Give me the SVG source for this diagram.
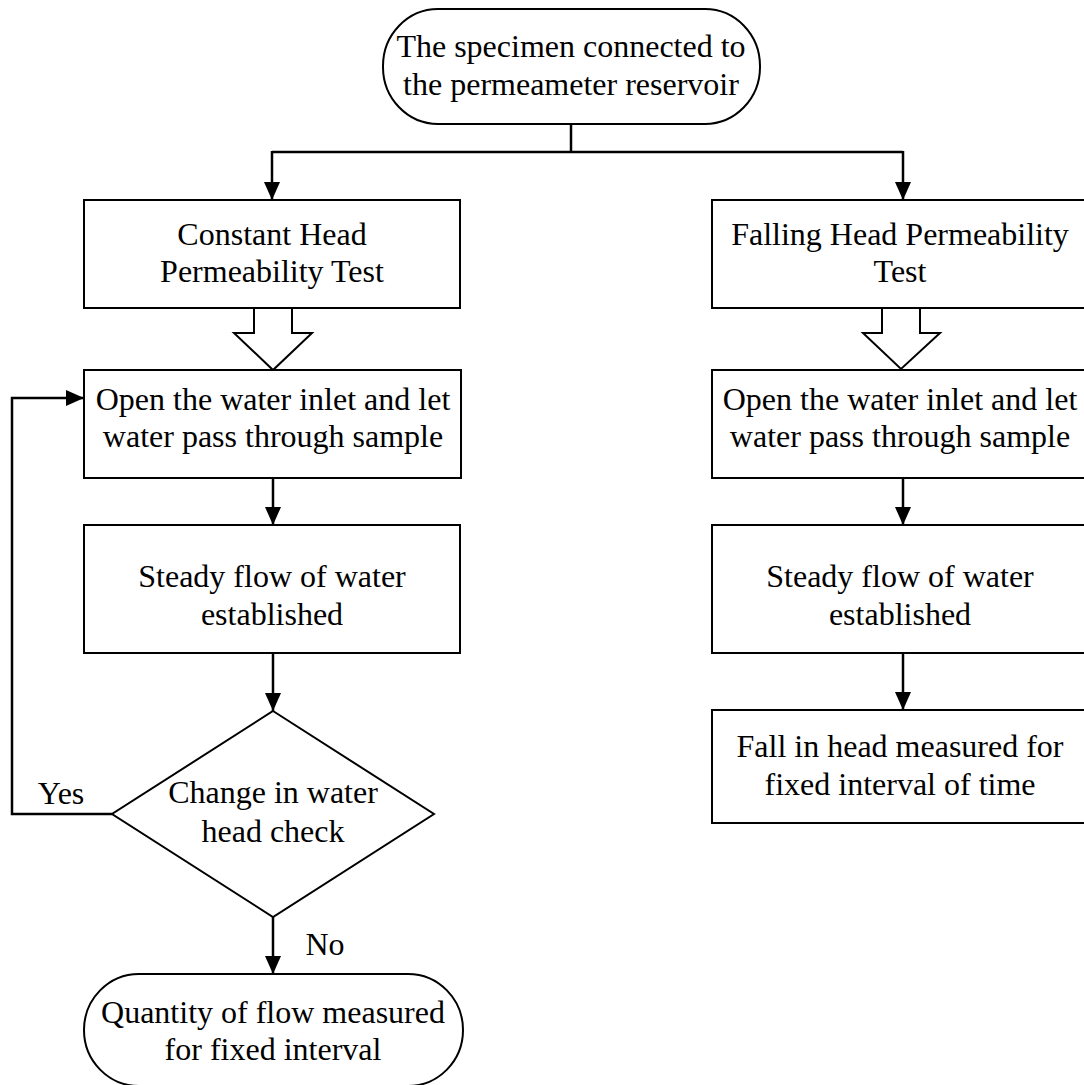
<svg xmlns="http://www.w3.org/2000/svg" width="1084" height="1085" viewBox="0 0 1084 1085">
<style>
.n{fill:#fff;stroke:#000;stroke-width:2}
.t{font-family:"Liberation Serif","Times New Roman",serif;font-size:32px;fill:#000;text-anchor:middle}
.c{fill:none;stroke:#000;stroke-width:2.5}
.h{fill:#fff;stroke:#000;stroke-width:2}
</style>
<defs>
<marker id="ah" markerUnits="userSpaceOnUse" markerWidth="18" markerHeight="16" refX="18" refY="8" orient="auto" viewBox="0 0 18 16">
<path d="M0,0 L18,8 L0,16 z" fill="#000"/>
</marker>
</defs>
<rect width="1084" height="1085" fill="#fff"/>
<g id="connectors">
<polyline class="c" points="571,124 571,152"/>
<polyline class="c" points="272,152 903,152"/>
<line class="c" x1="272" y1="151" x2="272" y2="200" marker-end="url(#ah)"/>
<line class="c" x1="903" y1="151" x2="903" y2="200" marker-end="url(#ah)"/>
<polygon class="h" points="254,308 292,308 292,333 312,333 273,370 234,333 254,333"/>
<polygon class="h" points="882,308 920,308 920,333 940,333 901,369 863,333 882,333"/>
<line class="c" x1="273" y1="478" x2="273" y2="525" marker-end="url(#ah)"/>
<line class="c" x1="903" y1="478" x2="903" y2="525" marker-end="url(#ah)"/>
<line class="c" x1="273" y1="653" x2="273" y2="711" marker-end="url(#ah)"/>
<line class="c" x1="903" y1="653" x2="903" y2="710" marker-end="url(#ah)"/>
<polyline class="c" points="112,814 12,814 12,398 84,398" marker-end="url(#ah)"/>
<line class="c" x1="273" y1="917" x2="273" y2="974" marker-end="url(#ah)"/>
<text class="t" x="61" y="804">Yes</text>
<text class="t" x="325" y="955">No</text>
</g>
<g id="start">
<rect class="n" x="383" y="9" width="377" height="115" rx="55" ry="57"/>
<text class="t" x="571" y="57">The specimen connected to</text>
<text class="t" x="571" y="95">the permeameter reservoir</text>
</g>
<g id="constant">
<rect class="n" x="84" y="200" width="376" height="108"/>
<text class="t" x="272" y="245">Constant Head</text>
<text class="t" x="272" y="282">Permeability Test</text>
</g>
<g id="falling">
<rect class="n" x="712" y="200" width="382" height="108"/>
<text class="t" x="900" y="245">Falling Head Permeability</text>
<text class="t" x="900" y="282">Test</text>
</g>
<g id="open-left">
<rect class="n" x="84" y="370" width="377" height="108"/>
<text class="t" x="273" y="410">Open the water inlet and let</text>
<text class="t" x="273" y="447">water pass through sample</text>
</g>
<g id="open-right">
<rect class="n" x="712" y="370" width="382" height="108"/>
<text class="t" x="900" y="410">Open the water inlet and let</text>
<text class="t" x="900" y="447">water pass through sample</text>
</g>
<g id="steady-left">
<rect class="n" x="84" y="525" width="376" height="128"/>
<text class="t" x="272" y="587">Steady flow of water</text>
<text class="t" x="272" y="625">established</text>
</g>
<g id="steady-right">
<rect class="n" x="712" y="525" width="382" height="128"/>
<text class="t" x="900" y="587">Steady flow of water</text>
<text class="t" x="900" y="625">established</text>
</g>
<g id="check">
<polygon class="n" points="273,711 434,814 273,917 112,814"/>
<text class="t" x="273" y="803">Change in water</text>
<text class="t" x="273" y="842">head check</text>
</g>
<g id="fall">
<rect class="n" x="712" y="710" width="382" height="113"/>
<text class="t" x="900" y="757">Fall in head measured for</text>
<text class="t" x="900" y="795">fixed interval of time</text>
</g>
<g id="quantity">
<rect class="n" x="84" y="974" width="379" height="112" rx="55" ry="56"/>
<text class="t" x="273" y="1023">Quantity of flow measured</text>
<text class="t" x="273" y="1060">for fixed interval</text>
</g>
</svg>
